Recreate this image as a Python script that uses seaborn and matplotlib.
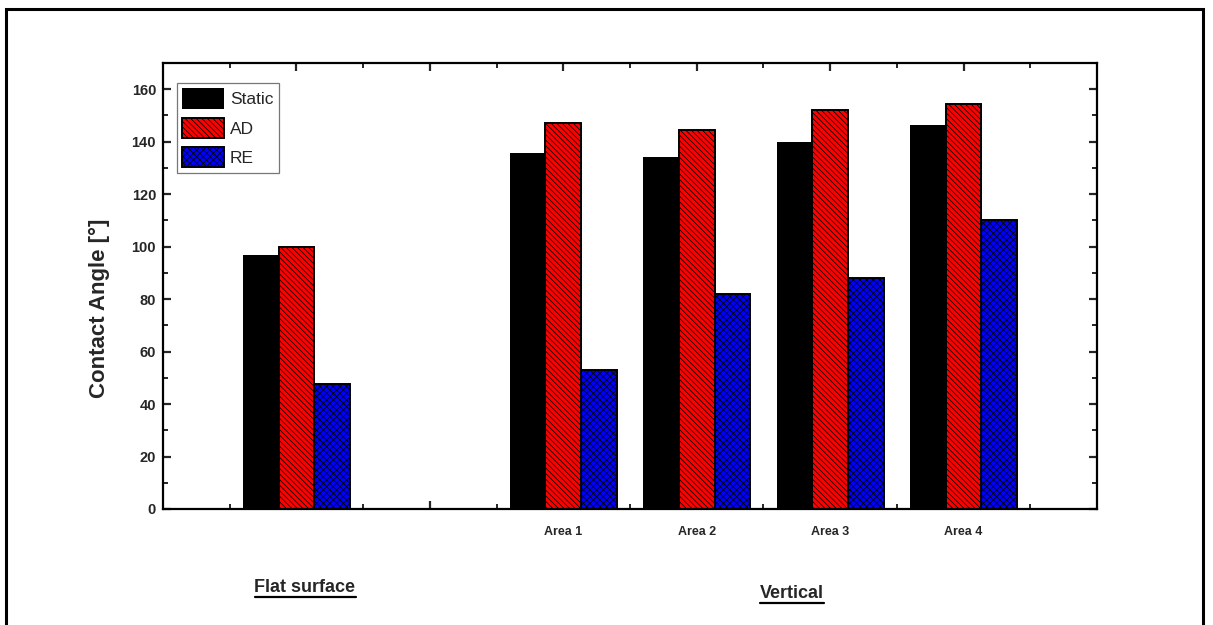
import matplotlib
matplotlib.use("Agg")
import matplotlib.pyplot as plt
from matplotlib import font_manager
from matplotlib.patches import Rectangle
from matplotlib.lines import Line2D
from matplotlib.ticker import FixedLocator, MultipleLocator
import numpy as np
import pandas as pd
import seaborn as sns

# ---- data ----
groups = ["Flat surface", "Area 1", "Area 2", "Area 3", "Area 4"]
group_pos = [1, 3, 4, 5, 6]
series = ["Static", "AD", "RE"]
static_vals = [97, 135.8, 134.3, 140, 146.2]
ad_vals = [100, 147, 144.3, 152, 154.5]
re_vals = [47.7, 53, 82, 88.2, 110]
tick_labels = ["", "", "Area 1", "Area 2", "Area 3", "Area 4"]
y_ticks = [0, 20, 40, 60, 80, 100, 120, 140, 160]

colors = {"Static": "#000000", "AD": "#ff0000", "RE": "#0000ff"}
hatches = {"Static": "", "AD": "\\\\\\\\\\\\", "RE": "xxxxx"}

sns.set_style("white")

available = {f.name for f in font_manager.fontManager.ttflist}
narrow = "Liberation Sans Narrow" if "Liberation Sans Narrow" in available else "Liberation Sans"
plt.rcParams["font.family"] = [narrow, "DejaVu Sans"]
plt.rcParams["hatch.linewidth"] = 0.55

rows = []
for name, vals in zip(series, [static_vals, ad_vals, re_vals]):
    for p, v in zip(group_pos, vals):
        rows.append({"pos": p, "angle": v, "series": name})
df = pd.DataFrame(rows)

fig = plt.figure(figsize=(12.13, 6.25), dpi=100)
ax = fig.add_axes([163 / 1213, 116 / 625, 934 / 1213, 446 / 625])

sns.barplot(data=df, x="pos", y="angle", hue="series", hue_order=series,
            palette=colors, saturation=1, native_scale=True, width=0.8,
            edgecolor="black", linewidth=1.4, legend=False, ax=ax,
            errorbar=None)

for cont, name in zip(ax.containers, series):
    for bar in cont.patches:
        bar.set_hatch(hatches[name])
        if name == "Static":
            bar.set_linewidth(0)

ax.set_xlim(0, 7)
ax.set_ylim(0, 170)

# ticks
ax.xaxis.set_major_locator(FixedLocator([1, 2, 3, 4, 5, 6]))
ax.xaxis.set_minor_locator(FixedLocator([0.5, 1.5, 2.5, 3.5, 4.5, 5.5, 6.5]))
ax.set_xticklabels(tick_labels, fontsize=9, fontweight="bold")
ax.yaxis.set_major_locator(FixedLocator(y_ticks))
ax.yaxis.set_minor_locator(MultipleLocator(10))
ax.set_yticklabels([str(t) for t in y_ticks], fontsize=10.5, fontweight="bold")
ax.tick_params(which="major", direction="in", length=6, width=1.6,
               top=True, right=True, bottom=True, left=True, pad=5)
ax.tick_params(which="minor", direction="in", length=3.5, width=1.4,
               top=True, right=True, bottom=True, left=True)
ax.tick_params(axis="x", which="major", pad=12)

for sp in ax.spines.values():
    sp.set_visible(True)
    sp.set_linewidth(1.6)
    sp.set_color("black")

ax.set_xlabel("")
ax.set_ylabel("Contact Angle [°]", fontsize=16, fontweight="bold",
              family=["Liberation Sans", "DejaVu Sans"])
ax.yaxis.set_label_coords(-0.057, 0.45)

leg = ax.legend(handles=list(ax.containers), labels=series,
                loc="upper left", bbox_to_anchor=(0.015, 0.955),
                fontsize=12.5, frameon=True, fancybox=False,
                edgecolor="#777777", framealpha=1, handlelength=2.4,
                handleheight=1.45, handletextpad=0.35, labelspacing=0.5,
                borderpad=0.3, borderaxespad=0)
leg.get_frame().set_linewidth(0.9)

# group captions below the axes
t1 = fig.text(305 / 1213, 1 - 587 / 625, "Flat surface", ha="center",
              va="center", fontsize=13, fontweight="bold")
t2 = fig.text(792 / 1213, 1 - 593 / 625, "Vertical", ha="center",
              va="center", fontsize=13, fontweight="bold")

fig.canvas.draw()
renderer = fig.canvas.get_renderer()
inv = fig.transFigure.inverted()
for t in (t1, t2):
    bb = t.get_window_extent(renderer)
    (x0, y0), (x1, _) = inv.transform([(bb.x0, bb.y0), (bb.x1, bb.y1)])
    fig.add_artist(Line2D([x0, x1], [y0 - 0.002, y0 - 0.002],
                          transform=fig.transFigure, color="black", lw=1.6))

# outer frame
fig.add_artist(Rectangle((6 / 1213, -0.05), (1203 - 6) / 1213, 0.05 + 1 - 9 / 625,
                         transform=fig.transFigure, fill=False,
                         edgecolor="black", linewidth=2.2, clip_on=False))

fig.savefig("out.png", dpi=100)
